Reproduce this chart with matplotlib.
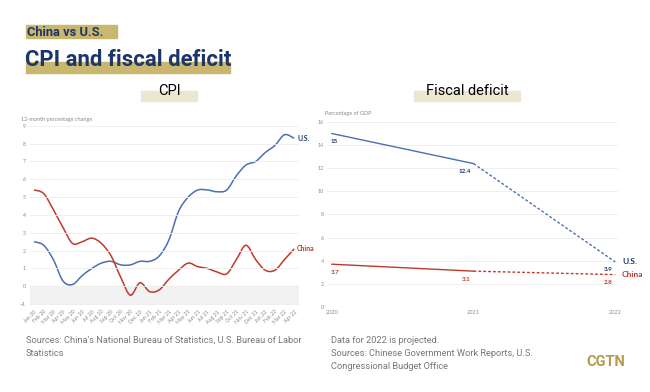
import numpy as np
import matplotlib.pyplot as plt
from matplotlib.path import Path
from matplotlib.patches import PathPatch, Rectangle

months = ["Jan 20", "Feb 20", "Mar 20", "Apr 20", "May 20", "Jun 20", "Jul 20",
          "Aug 20", "Sep 20", "Oct 20", "Nov 20", "Dec 20", "Jan 21", "Feb 21",
          "Mar 21", "Apr 21", "May 21", "Jun 21", "Jul 21", "Aug 21", "Sep 21",
          "Oct 21", "Nov 21", "Dec 21", "Jan 22", "Feb 22", "Mar 22", "Apr 22"]
us_cpi = [2.5, 2.3, 1.5, 0.3, 0.1, 0.6, 1.0, 1.3, 1.4, 1.2, 1.2, 1.4, 1.4, 1.7,
          2.6, 4.2, 5.0, 5.4, 5.4, 5.3, 5.4, 6.2, 6.8, 7.0, 7.5, 7.9, 8.5, 8.3]
china_cpi = [5.4, 5.2, 4.3, 3.3, 2.4, 2.5, 2.7, 2.4, 1.7, 0.5, -0.5, 0.2, -0.3, -0.2,
             0.4, 0.9, 1.3, 1.1, 1.0, 0.8, 0.7, 1.5, 2.3, 1.5, 0.9, 0.9, 1.5, 2.1]

years = [2020, 2021, 2022]
us_deficit = [15, 12.4, 3.9]
china_deficit = [3.7, 3.1, 2.8]

BLUE = "#4a6fb3"
RED = "#c0392b"
NAVY = "#1c3669"
GOLD = "#c9b66f"
BEIGE = "#ede6d3"
GREY = "#8a8a8a"

plt.rcParams['font.family'] = ['Lato', 'DejaVu Sans']
NARROW = ['Roboto', 'DejaVu Sans']


def smooth_path(x, y):
    pts = np.column_stack([x, y]).astype(float)
    n = len(pts)
    verts = [pts[0]]
    codes = [Path.MOVETO]
    for i in range(n - 1):
        p0 = pts[max(i - 1, 0)]
        p1 = pts[i]
        p2 = pts[i + 1]
        p3 = pts[min(i + 2, n - 1)]
        verts += [p1 + (p2 - p0) / 6, p2 - (p3 - p1) / 6, p2]
        codes += [Path.CURVE4] * 3
    return Path(verts, codes)


def fx(px):
    return px / 650


def fy(py):
    return 1 - py / 392


fig = plt.figure(figsize=(6.5, 3.92), dpi=100)

# header bands and titles
fig.patches.append(Rectangle((fx(26), fy(38)), fx(91), 13 / 392, transform=fig.transFigure,
                             color=GOLD, zorder=0))
fig.text(fx(27), fy(32), "China vs U.S.", fontsize=9.3, fontweight='bold', color=NAVY,
         va='center', family=NARROW)
fig.patches.append(Rectangle((fx(26), fy(73)), fx(204), 11 / 392, transform=fig.transFigure,
                             color=GOLD, zorder=0))
fig.text(fx(25), fy(60), "CPI and fiscal deficit", fontsize=15.9, fontweight='bold', color=NAVY,
         va='center', family=NARROW)

fig.patches.append(Rectangle((fx(141), fy(101)), fx(56), 10 / 392, transform=fig.transFigure,
                             color=BEIGE, zorder=0))
fig.text(fx(169), fy(91), "CPI", fontsize=10.5, color='black', ha='center', va='center',
         family=NARROW)
fig.patches.append(Rectangle((fx(414), fy(101)), fx(106), 10 / 392, transform=fig.transFigure,
                             color=BEIGE, zorder=0))
fig.text(fx(467), fy(91), "Fiscal deficit", fontsize=10.5, color='black', ha='center',
         va='center', family=NARROW)

# CPI chart
ax1 = fig.add_axes([fx(30), fy(305), fx(269), 181 / 392])
x = np.arange(len(months))
ax1.axhspan(-1, 0, color='#f2f2f2', zorder=0)
ax1.add_patch(PathPatch(smooth_path(x, us_cpi), fill=False, edgecolor=BLUE, lw=1.1))
ax1.add_patch(PathPatch(smooth_path(x, china_cpi), fill=False, edgecolor=RED, lw=1.1))
ax1.set_xlim(-0.42, 27.5)
ax1.set_ylim(-1.05, 9.1)
ax1.set_yticks(range(-1, 10))
ax1.set_xticks(x)
ax1.set_xticklabels(months, rotation=45, ha='right', rotation_mode='anchor')
ax1.grid(axis='y', color='#eeeeee', lw=0.6)
ax1.tick_params(axis='both', length=0, labelsize=3.8, colors=GREY, pad=3)
for s in ax1.spines.values():
    s.set_visible(False)
ax1.text(x[-1] + 0.3, us_cpi[-1], "U.S.", color=NAVY, fontsize=5, fontweight='bold',
         va='center')
ax1.text(x[-1] + 0.3, china_cpi[-1], "China", color=RED, fontsize=5, fontweight='bold',
         va='center')
fig.text(fx(21), fy(119), "12-month percentage change", fontsize=4, color=GREY, va='center')

# fiscal deficit chart
ax2 = fig.add_axes([fx(327), fy(307), fx(291), 188.5 / 392])
ax2.plot(years[:2], us_deficit[:2], color=BLUE, lw=1)
ax2.plot(years[1:], us_deficit[1:], color=BLUE, lw=1, ls=(0, (2, 1.5)))
ax2.plot(years[:2], china_deficit[:2], color=RED, lw=1)
ax2.plot(years[1:], china_deficit[1:], color=RED, lw=1, ls=(0, (2, 1.5)))
ax2.set_xlim(2019.965, 2022.02)
ax2.set_ylim(0, 16.3)
ax2.set_yticks(range(0, 17, 2))
ax2.set_xticks(years)
ax2.grid(axis='y', color='#eeeeee', lw=0.6)
ax2.tick_params(axis='both', length=0, labelsize=4, colors=GREY, pad=2)
for s in ax2.spines.values():
    s.set_visible(False)
for yr, v in zip(years, us_deficit):
    ax2.annotate(f"{v:g}", (yr, v), xytext=(-1 if yr == 2020 else -2, -4),
                 textcoords='offset points', ha='left' if yr == 2020 else 'right', va='top',
                 color=NAVY, fontsize=4.5, fontweight='bold')
for yr, v in zip(years, china_deficit):
    ax2.annotate(f"{v:g}", (yr, v), xytext=(-1 if yr == 2020 else -2, -4),
                 textcoords='offset points', ha='left' if yr == 2020 else 'right', va='top',
                 color=RED, fontsize=4.5, fontweight='bold')
ax2.annotate("U.S.", (years[-1], us_deficit[-1]), xytext=(5, 0), textcoords='offset points',
             va='center', color=NAVY, fontsize=6, fontweight='bold')
ax2.annotate("China", (years[-1], china_deficit[-1]), xytext=(5, 0), textcoords='offset points',
             va='center', color=RED, fontsize=6, fontweight='bold')
fig.text(fx(325), fy(114), "Percentage of GDP", fontsize=4, color=GREY, va='center')

# footers
fig.text(fx(26), fy(336), "Sources: China's National Bureau of Statistics, U.S. Bureau of Labor\n"
         "Statistics", fontsize=6.7, color='#777777', va='top', family=NARROW, linespacing=1.6)
fig.text(fx(331), fy(336), "Data for 2022 is projected.\n"
         "Sources: Chinese Government Work Reports, U.S.\nCongressional Budget Office",
         fontsize=6.7, color='#777777', va='top', family=NARROW, linespacing=1.6)
fig.text(fx(625), fy(362), "CGTN", fontsize=10.5, fontweight='bold', color='#b39b4a',
         ha='right', va='center', family=NARROW)

fig.savefig("out.png", dpi=100)
